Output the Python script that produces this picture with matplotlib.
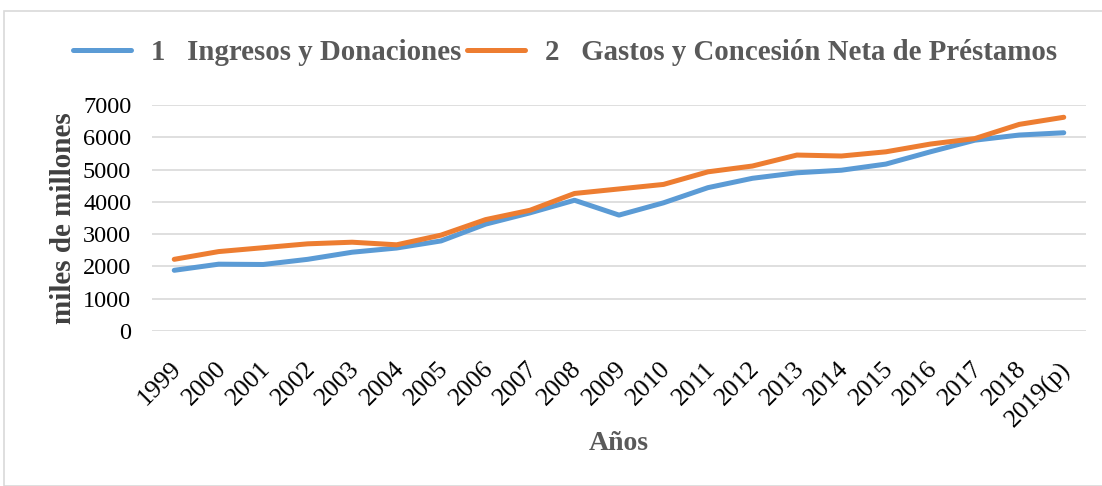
import matplotlib.pyplot as plt
import matplotlib.transforms as mtransforms
from matplotlib.patches import Rectangle

YEARS = ["1999", "2000", "2001", "2002", "2003", "2004", "2005", "2006", "2007",
         "2008", "2009", "2010", "2011", "2012", "2013", "2014", "2015", "2016",
         "2017", "2018", "2019(p)"]
INGRESOS = [1880, 2070, 2060, 2220, 2440, 2570, 2790, 3310, 3660, 4050, 3590,
            3970, 4440, 4730, 4900, 4980, 5170, 5550, 5910, 6070, 6140]
GASTOS = [2220, 2460, 2580, 2700, 2750, 2670, 2970, 3450, 3740, 4260, 4400,
          4540, 4930, 5110, 5450, 5420, 5550, 5790, 5960, 6400, 6620]
LABELS = ["1   Ingresos y Donaciones", "2   Gastos y Concesión Neta de Préstamos"]
COLORS = ["#5B9BD5", "#ED7D31"]
GREY_TEXT = "#595959"

plt.rcParams["font.family"] = ["Liberation Serif", "DejaVu Serif"]

W, H = 1102, 486
fig = plt.figure(figsize=(W / 100, H / 100), dpi=100)
fig.patches.append(Rectangle((4 / W, 0), 1.2, 1 - 11 / H, transform=fig.transFigure,
                             fill=False, edgecolor="#D9D9D9", linewidth=1.2))

ax = fig.add_axes([152 / W, 1 - 331 / H, (1086 - 152) / W, (331 - 105) / H])
x = list(range(len(YEARS)))
for values, label, color in zip([INGRESOS, GASTOS], LABELS, COLORS):
    ax.plot(x, values, color=color, linewidth=3.6, label=label,
            solid_capstyle="round", solid_joinstyle="round", zorder=3)

ax.set_xlim(-0.5, len(YEARS) - 0.5)
ax.set_ylim(0, 7000)
ax.set_yticks(range(0, 7001, 1000))
ax.tick_params(axis="y", length=0, labelsize=17.5, pad=15)
ax.tick_params(axis="x", length=0, pad=25)
ax.set_xticks(x)
ax.set_xticklabels(YEARS, rotation=45, ha="right", va="center", rotation_mode="anchor",
                   fontsize=18.5)
shift = mtransforms.ScaledTranslation(4 / 100, 0, fig.dpi_scale_trans)
for lbl in ax.get_xticklabels():
    lbl.set_transform(lbl.get_transform() + shift)
ax.grid(axis="y", color="#D9D9D9", linewidth=1.2)
for side in ("top", "right", "left", "bottom"):
    ax.spines[side].set_visible(False)

ax.set_ylabel("miles de millones", fontsize=21, fontweight="bold", color="#404040",
              labelpad=4)
fig.text(619 / W, 1 - 444 / H, "Años", fontsize=20, fontweight="bold", color=GREY_TEXT,
         ha="center", va="center")

leg = fig.legend(loc="center", bbox_to_anchor=(565 / W, 1 - 53 / H), ncol=2,
                 frameon=False, handlelength=2.0, handletextpad=0.7,
                 columnspacing=0.2, prop={"size": 20.8, "weight": "bold"})
for text in leg.get_texts():
    text.set_color(GREY_TEXT)

fig.savefig("out.png", dpi=100)
